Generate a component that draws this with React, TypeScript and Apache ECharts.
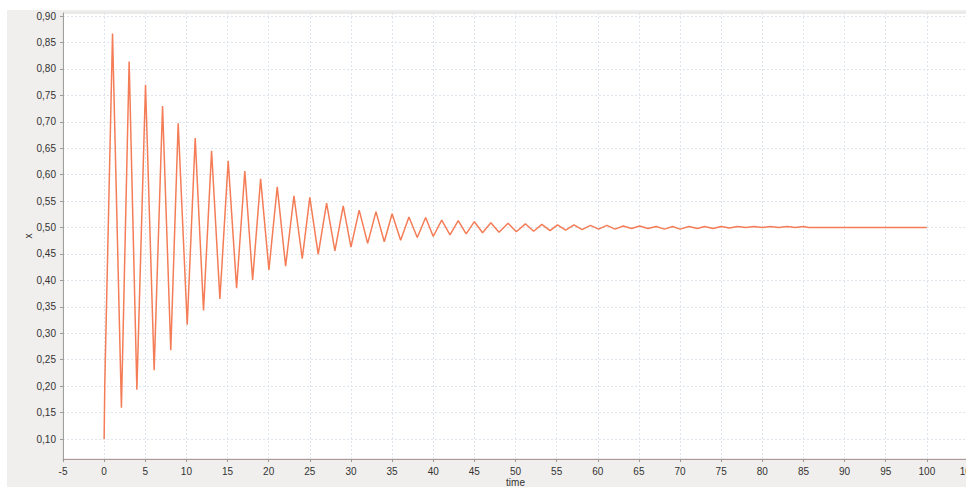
import React, { useEffect, useRef } from "react";
import * as echarts from "echarts";

const times = [
  0, 0.08, 1.02, 2.1, 3.04, 3.98, 5.03, 6.08, 7.1, 8.1, 9.0, 10.1, 11.07, 12.08, 13.06, 14.07,
  15.08, 16.1, 17.1, 18.05, 19.02, 20.03, 21.04, 22.06, 23.07, 24.08, 25.0, 26.02, 27.04, 28.05,
  29.06, 30.0, 31.0, 32.03, 33.04, 34.05, 35.0, 36.04, 37.05, 38.06, 39.08, 40.0, 41.03, 42.04,
  43.04, 44.0, 45.0, 46.0, 47.0, 48.0, 49.1, 50.1, 51.2, 52.2, 53.2, 54.2, 55.1, 56.1, 57.1, 58.1,
  59.1, 60.1, 61.1, 62.1, 63.1, 64.1, 65.1, 66.1, 67.1, 68.1, 69.1, 70.0, 71.1, 72.1, 73.0, 74.0,
  75.0, 76.0, 77.0, 78.0, 79.0, 80.0, 81.0, 82.0, 83.0, 84.0, 85.0, 85.6, 100,
];

const xValues = [
  0.1, 0.205, 0.867, 0.159, 0.814, 0.193, 0.77, 0.23, 0.73, 0.268, 0.697, 0.316, 0.669, 0.343, 0.645,
  0.365, 0.626, 0.385, 0.607, 0.401, 0.592, 0.42, 0.577, 0.427, 0.56, 0.441, 0.557, 0.449, 0.546,
  0.456, 0.541, 0.463, 0.533, 0.47, 0.53, 0.473, 0.526, 0.476, 0.52, 0.481, 0.519, 0.483, 0.514,
  0.486, 0.513, 0.488, 0.511, 0.49, 0.509, 0.491, 0.508, 0.492, 0.507, 0.493, 0.506, 0.494, 0.505,
  0.495, 0.505, 0.496, 0.504, 0.497, 0.504, 0.497, 0.503, 0.498, 0.503, 0.498, 0.502, 0.497, 0.502,
  0.497, 0.502, 0.498, 0.502, 0.498, 0.502, 0.499, 0.502, 0.5, 0.502, 0.5, 0.502, 0.5, 0.502, 0.5,
  0.502, 0.5, 0.5,
];

const yTicks = [0.1, 0.15, 0.2, 0.25, 0.3, 0.35, 0.4, 0.45, 0.5, 0.55, 0.6, 0.65, 0.7, 0.75, 0.8, 0.85, 0.9];

const xAxisName = "time";
const yAxisName = "x";

export default function App() {
  const ref = useRef<HTMLDivElement>(null);

  useEffect(() => {
    if (!ref.current) return;
    const chart = echarts.init(ref.current, undefined, { renderer: "svg" });
    const font = "Liberation Sans, Arial, sans-serif";
    chart.setOption({
      animation: false,
      backgroundColor: "transparent",
      grid: {
        left: 63,
        top: 13,
        width: 905,
        height: 446,
        show: true,
        backgroundColor: "#ffffff",
        borderColor: "#dcdcdc",
        borderWidth: 1,
        containLabel: false,
        outerBoundsMode: "none",
      },
      xAxis: {
        type: "value",
        min: -5,
        max: 105,
        interval: 5,
        name: xAxisName,
        nameLocation: "middle",
        nameGap: 18,
        nameMoveOverlap: false,
        nameTextStyle: { color: "#333", fontSize: 10, fontFamily: font },
        axisLine: { show: true, onZero: false, lineStyle: { color: "#b09898", width: 1 } },
        axisTick: { show: true, length: 3, lineStyle: { color: "#999" } },
        axisLabel: {
          color: "#333",
          fontSize: 10,
          fontFamily: font,
          margin: 7,
          showMinLabel: true,
          showMaxLabel: true,
          formatter: (v: number) => String(Math.round(v)),
        },
        splitLine: { show: true, lineStyle: { color: "#dfe5ec", width: 1, type: [2, 2] } },
      },
      yAxis: {
        type: "value",
        min: 0.0622,
        max: 0.9057,
        name: yAxisName,
        nameLocation: "middle",
        nameGap: 30,
        nameRotate: 90,
        nameMoveOverlap: false,
        nameTextStyle: { color: "#333", fontSize: 10, fontFamily: font },
        axisLine: { show: true, onZero: false, lineStyle: { color: "#a0a0a0", width: 1 } },
        axisTick: { show: true, length: 3, customValues: yTicks, lineStyle: { color: "#999" } },
        axisLabel: {
          color: "#333",
          fontSize: 10,
          fontFamily: font,
          margin: 7,
          customValues: yTicks,
          formatter: (v: number) => v.toFixed(2).replace(".", ","),
        },
        splitLine: { show: true, lineStyle: { color: "#dfe5ec", width: 1, type: [2, 2] } },
      },
      series: [
        {
          type: "line",
          data: times.map((t, i) => [t, xValues[i]]),
          showSymbol: false,
          symbol: "none",
          lineStyle: { color: "#f47d57", width: 1.5 },
          clip: true,
        },
      ],
    });
    return () => chart.dispose();
  }, []);

  return (
    <div style={{ position: "fixed", left: 0, top: 0, width: 966, height: 487, background: "#ffffff", overflow: "hidden" }}>
      <div style={{ position: "absolute", left: 7, top: 10, width: 959, height: 477, background: "#f0efed" }} />
      <div ref={ref} style={{ position: "absolute", left: 0, top: 0, width: 966, height: 487 }} />
    </div>
  );
}
